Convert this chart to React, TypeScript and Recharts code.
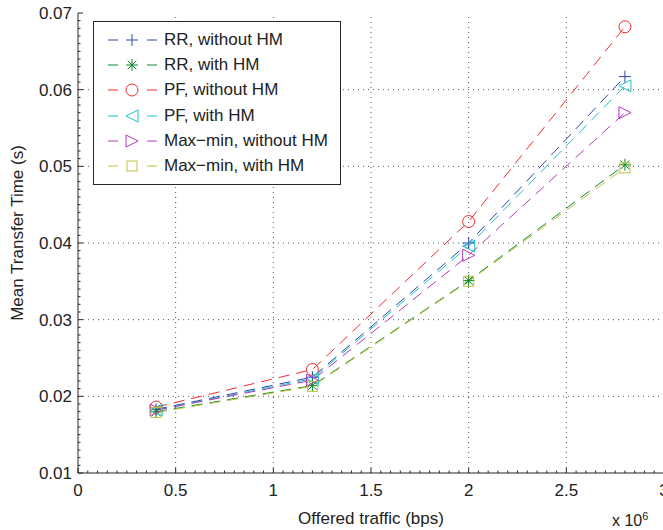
import { Label, Line, LineChart, ReferenceLine, XAxis, YAxis } from "recharts"

// offered traffic (x 10^6 bps)
const TRAFFIC = [0.4, 1.2, 2.0, 2.8]

// mean transfer time (s)
const RR_NO_HM = [0.0183, 0.0225, 0.04, 0.0617]
const RR_HM = [0.018, 0.0214, 0.0351, 0.0502]
const PF_NO_HM = [0.0186, 0.0235, 0.0428, 0.0682]
const PF_HM = [0.0182, 0.0223, 0.0396, 0.0605]
const MAXMIN_NO_HM = [0.0182, 0.0221, 0.0384, 0.057]
const MAXMIN_HM = [0.0179, 0.0213, 0.035, 0.0498]

const X_TICKS = [0, 0.5, 1, 1.5, 2, 2.5, 3]
const X_LABELS = ["0", "0.5", "1", "1.5", "2", "2.5", "3"]
const Y_TICKS = [0.01, 0.02, 0.03, 0.04, 0.05, 0.06, 0.07]
const Y_LABELS = ["0.01", "0.02", "0.03", "0.04", "0.05", "0.06", "0.07"]

// minor ticks: 10 per x major, 10 per y major
const X_MINOR = Array.from({ length: 61 }, (_, i) => Math.round(i * 5) / 100)
const Y_MINOR = Array.from({ length: 61 }, (_, i) => Math.round(10 + i) / 1000)

type MarkerKind = "plus" | "star" | "circle" | "left" | "right" | "square"

const SERIES: { key: string; name: string; values: number[]; color: string; marker: MarkerKind }[] = [
  { key: "rr", name: "RR, without HM", values: RR_NO_HM, color: "#2b45a8", marker: "plus" },
  { key: "rrHm", name: "RR, with HM", values: RR_HM, color: "#0b8a2a", marker: "star" },
  { key: "pf", name: "PF, without HM", values: PF_NO_HM, color: "#f22a2a", marker: "circle" },
  { key: "pfHm", name: "PF, with HM", values: PF_HM, color: "#1cc3c8", marker: "left" },
  { key: "mm", name: "Max\u2212min, without HM", values: MAXMIN_NO_HM, color: "#b03ab8", marker: "right" },
  { key: "mmHm", name: "Max\u2212min, with HM", values: MAXMIN_HM, color: "#c2c03a", marker: "square" },
]

const data = TRAFFIC.map((t, i) => {
  const row: Record<string, number> = { x: t }
  SERIES.forEach((s) => (row[s.key] = s.values[i]))
  return row
})

const FONT = "'Liberation Sans', Arial, sans-serif"
const AXIS = "#262626"

function Marker({ kind, cx, cy, color }: { kind: MarkerKind; cx: number; cy: number; color: string }) {
  const r = 6
  const p = { stroke: color, strokeWidth: 1, fill: "none" }
  switch (kind) {
    case "plus":
      return (
        <g {...p}>
          <line x1={cx - r} x2={cx + r} y1={cy} y2={cy} />
          <line x1={cx} x2={cx} y1={cy - r} y2={cy + r} />
        </g>
      )
    case "star":
      return (
        <g {...p}>
          <line x1={cx - r} x2={cx + r} y1={cy} y2={cy} />
          <line x1={cx} x2={cx} y1={cy - r} y2={cy + r} />
          <line x1={cx - 4.3} x2={cx + 4.3} y1={cy - 4.3} y2={cy + 4.3} />
          <line x1={cx - 4.3} x2={cx + 4.3} y1={cy + 4.3} y2={cy - 4.3} />
        </g>
      )
    case "circle":
      return <circle cx={cx} cy={cy} r={r} {...p} />
    case "left":
      return <polygon points={`${cx - r},${cy} ${cx + r},${cy - r} ${cx + r},${cy + r}`} {...p} />
    case "right":
      return <polygon points={`${cx + r},${cy} ${cx - r},${cy - r} ${cx - r},${cy + r}`} {...p} />
    default:
      return <rect x={cx - 5} y={cy - 5} width={10} height={10} {...p} />
  }
}

const near = (a: number, list: number[]) => list.findIndex((v) => Math.abs(v - a) < 1e-9)

function XTickBottom(props: any) {
  const { x, y, payload } = props
  const idx = near(payload.value, X_TICKS)
  return (
    <g>
      <line x1={x} x2={x} y1={y} y2={y - (idx >= 0 ? 5 : 2.5)} stroke={AXIS} />
      {idx >= 0 && (
        <text x={x} y={y + 23} textAnchor="middle" fontSize={17} fontFamily={FONT} fill="#222">
          {X_LABELS[idx]}
        </text>
      )}
    </g>
  )
}

function XTickTop(props: any) {
  const { x, y } = props
  return <line x1={x} x2={x} y1={y} y2={y + 5} stroke={AXIS} />
}

function YTick(props: any) {
  const { x, y, payload } = props
  const idx = near(payload.value, Y_TICKS)
  return (
    <g>
      <line x1={x} x2={x + (idx >= 0 ? 5 : 2.5)} y1={y} y2={y} stroke={AXIS} />
      {idx >= 0 && (
        <text x={x - 6} y={y + 6} textAnchor="end" fontSize={17} fontFamily={FONT} fill="#222">
          {Y_LABELS[idx]}
        </text>
      )}
    </g>
  )
}

function LegendBox() {
  return (
    <div
      style={{
        position: "absolute",
        left: 93,
        top: 21,
        border: "1px solid #262626",
        background: "#fff",
        width: 246,
        padding: "5px 0 5px 0",
        fontFamily: FONT,
        fontSize: 17,
        color: "#222",
      }}
    >
      {SERIES.map((s) => (
        <div key={s.key} style={{ display: "flex", alignItems: "center", height: 25.3 }}>
          <svg width={70} height={20} style={{ flex: "none" }}>
            <line x1={14} x2={24} y1={10} y2={10} stroke={s.color} />
            <line x1={53} x2={63} y1={10} y2={10} stroke={s.color} />
            <Marker kind={s.marker} cx={38} cy={10} color={s.color} />
          </svg>
          <span style={{ whiteSpace: "nowrap" }}>{s.name}</span>
        </div>
      ))}
    </div>
  )
}

export default function App() {
  return (
    <div
      style={{
        position: "absolute",
        left: 0,
        top: 0,
        width: 663,
        height: 530,
        overflow: "hidden",
        background: "#fff",
      }}
    >
      <LineChart width={670} height={530} data={data} margin={{ top: 13, right: 6, bottom: 0, left: 0 }}>
        <XAxis
          dataKey="x"
          type="number"
          domain={[0, 3]}
          ticks={X_MINOR}
          interval={0}
          tick={<XTickBottom />}
          tickSize={0}
          tickMargin={0}
          tickLine={false}
          axisLine={{ stroke: AXIS }}
          height={57}
          allowDataOverflow
        >
          <Label
            value="Offered traffic (bps)"
            position="insideBottom"
            offset={6}
            style={{ fontSize: 17, fontFamily: FONT, fill: "#222" }}
          />
        </XAxis>
        <XAxis
          xAxisId="top"
          orientation="top"
          type="number"
          domain={[0, 3]}
          ticks={X_TICKS}
          interval={0}
          tick={<XTickTop />}
          tickSize={0}
          tickMargin={0}
          tickLine={false}
          axisLine={{ stroke: AXIS }}
          height={0}
        />
        <YAxis
          type="number"
          domain={[0.01, 0.07]}
          ticks={Y_MINOR}
          interval={0}
          tick={<YTick />}
          tickSize={0}
          tickMargin={0}
          tickLine={false}
          axisLine={{ stroke: AXIS }}
          width={78}
          allowDataOverflow
        >
          <Label
            value="Mean Transfer Time (s)"
            angle={-90}
            position="insideLeft"
            offset={17}
            dy={-10}
            style={{ fontSize: 17, fontFamily: FONT, fill: "#222", textAnchor: "middle" }}
          />
        </YAxis>
        {X_TICKS.slice(1, -1).map((v) => (
          <ReferenceLine key={`gx${v}`} x={v} stroke="#555" strokeDasharray="1 4" />
        ))}
        {Y_TICKS.slice(1, -1).map((v) => (
          <ReferenceLine key={`gy${v}`} y={v} stroke="#555" strokeDasharray="1 4" />
        ))}
        {SERIES.map((s) => (
          <Line
            key={s.key}
            dataKey={s.key}
            name={s.name}
            type="linear"
            stroke={s.color}
            strokeWidth={1}
            strokeDasharray="11 7"
            dot={(p: any) => <Marker key={`${s.key}${p.index}`} kind={s.marker} cx={p.cx} cy={p.cy} color={s.color} />}
            activeDot={false}
            isAnimationActive={false}
          />
        ))}
      </LineChart>
      <LegendBox />
      <div
        style={{
          position: "absolute",
          left: 612,
          top: 510,
          fontFamily: FONT,
          fontSize: 16,
          color: "#222",
          whiteSpace: "nowrap",
        }}
      >
        x 10<sup style={{ fontSize: 11 }}>6</sup>
      </div>
    </div>
  )
}
